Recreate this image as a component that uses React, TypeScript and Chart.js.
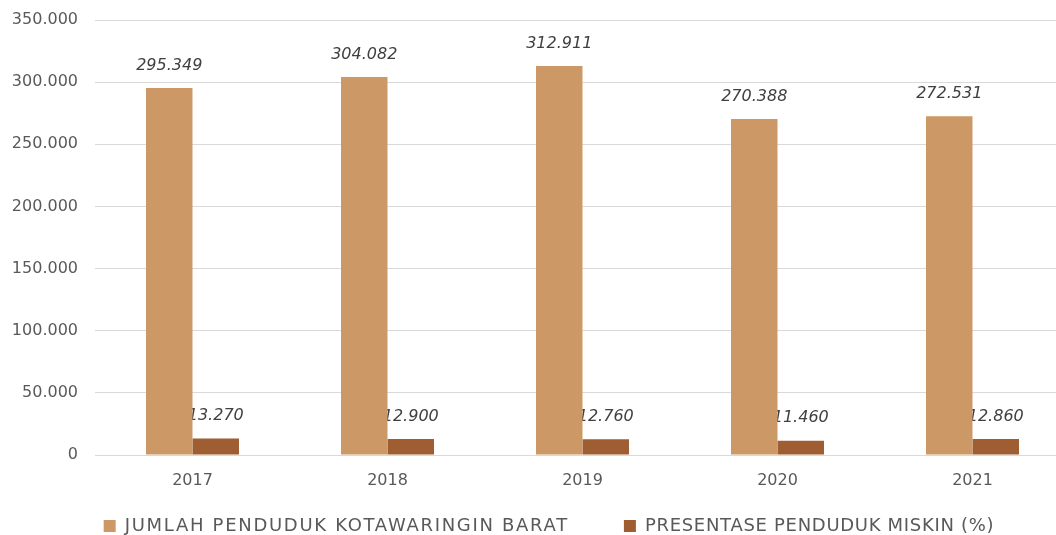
import React, { useEffect, useRef } from "react";
import { Chart, registerables } from "chart.js";

Chart.register(...registerables);

const years = ["2017", "2018", "2019", "2020", "2021"];
const jumlahPenduduk = [295349, 304082, 312911, 270388, 272531];
const presentaseMiskin = [13270, 12900, 12760, 11460, 12860];
const seriesNames = ["JUMLAH PENDUDUK KOTAWARINGIN BARAT", "PRESENTASE PENDUDUK MISKIN (%)"];
const yMax = 350000;
const yStep = 50000;

const FONT = "'DejaVu Sans', sans-serif";
const TEXT = "#595959";
const LEGEND_PAD = 55;
const LEGEND_FONT = 18;
const CANVAS_H = 585;
const LEGEND_DX = 14;
const LEGEND_DY = 526 - (CANVAS_H - (LEGEND_FONT + LEGEND_PAD + 10) + LEGEND_PAD + LEGEND_FONT / 2);
const legendSpacing = (t: string) => (t === seriesNames[0] ? "1.7px" : "0.7px");

const fmt = (v: number) => String(Math.round(v)).replace(/\B(?=(\d{3})+(?!\d))/g, ".");

function drawLabels(chart: any, di: number) {
  const ctx = chart.ctx;
  const ds = chart.data.datasets[di];
  const meta = chart.getDatasetMeta(di);
  ctx.save();
  ctx.font = `italic 16px ${FONT}`;
  ctx.fillStyle = "#404040";
  ctx.textAlign = "center";
  ctx.textBaseline = "middle";
  meta.data.forEach((el: any, i: number) => {
    ctx.fillText(fmt(ds.data[i]), el.x, el.y - 22.5);
  });
  ctx.restore();
}

const labelPlugin = {
  id: "barLabels",
  beforeDatasetsDraw(chart: any) {
    drawLabels(chart, 1);
  },
  afterDatasetsDraw(chart: any) {
    drawLabels(chart, 0);
  },
};

function withSpacing(ctx: any, fn: () => void) {
  const proto = Object.getPrototypeOf(ctx);
  ctx.measureText = function (t: string) {
    this.letterSpacing = legendSpacing(t);
    return proto.measureText.call(this, t);
  };
  ctx.fillText = function (t: string, x: number, y: number, mw?: number) {
    this.letterSpacing = legendSpacing(t);
    return mw === undefined ? proto.fillText.call(this, t, x, y) : proto.fillText.call(this, t, x, y, mw);
  };
  try {
    fn();
  } finally {
    delete ctx.measureText;
    delete ctx.fillText;
    ctx.letterSpacing = "0px";
  }
}

const legendSpacingPlugin = {
  id: "legendSpacing",
  beforeUpdate(chart: any) {
    const lg = chart.legend;
    if (!lg || lg.__spaced) return;
    lg.__spaced = true;
    const origFit = lg.fit.bind(lg);
    const origDraw = lg.draw.bind(lg);
    lg.fit = function () {
      const ctx = chart.ctx;
      ctx.save();
      withSpacing(ctx, origFit);
      ctx.restore();
    };
    lg.draw = function () {
      const ctx = chart.ctx;
      ctx.save();
      ctx.translate(LEGEND_DX, LEGEND_DY);
      withSpacing(ctx, origDraw);
      ctx.restore();
    };
  },
};

export default function App() {
  const ref = useRef<HTMLCanvasElement | null>(null);
  useEffect(() => {
    if (!ref.current) return;
    const chart = new Chart(ref.current, {
      type: "bar",
      data: {
        labels: years,
        datasets: [
          { label: seriesNames[0], data: jumlahPenduduk, backgroundColor: "#CC9966", borderWidth: 0 },
          { label: seriesNames[1], data: presentaseMiskin, backgroundColor: "#9E5E32", borderWidth: 0 },
        ],
      },
      options: {
        animation: false,
        responsive: true,
        maintainAspectRatio: false,
        layout: { padding: { top: 20, right: 0, left: 0, bottom: 0 } },
        datasets: { bar: { barPercentage: 1, categoryPercentage: 0.477 } },
        scales: {
          y: {
            min: 0,
            max: yMax,
            border: { display: false },
            grid: { color: "#D9D9D9", drawTicks: false, lineWidth: 1 },
            ticks: {
              stepSize: yStep,
              padding: 17,
              color: TEXT,
              font: { family: FONT, size: 16 },
              callback: (v: any) => (Number(v) === 0 ? "0" : fmt(Number(v))),
            },
            afterFit: (s: any) => {
              s.width = 95;
              s.paddingTop = 0;
              s.paddingBottom = 0;
            },
          },
          x: {
            border: { display: false },
            grid: { display: false, drawTicks: false },
            ticks: { padding: 16, color: TEXT, font: { family: FONT, size: 16 } },
            afterFit: (s: any) => {
              s.height = 47;
            },
          },
        },
        plugins: {
          legend: {
            position: "bottom",
            labels: {
              boxWidth: 12,
              boxHeight: 12,
              padding: LEGEND_PAD,
              color: TEXT,
              font: { family: FONT, size: LEGEND_FONT },
            },
          },
          tooltip: { enabled: false },
        },
      },
      plugins: [legendSpacingPlugin, labelPlugin],
    });
    return () => chart.destroy();
  }, []);
  return (
    <div style={{ position: "fixed", left: 0, top: 0, width: 1056, height: 535, overflow: "hidden", background: "#fff" }}>
      <div style={{ position: "relative", width: 1070, height: CANVAS_H }}>
        <canvas ref={ref} />
      </div>
    </div>
  );
}
